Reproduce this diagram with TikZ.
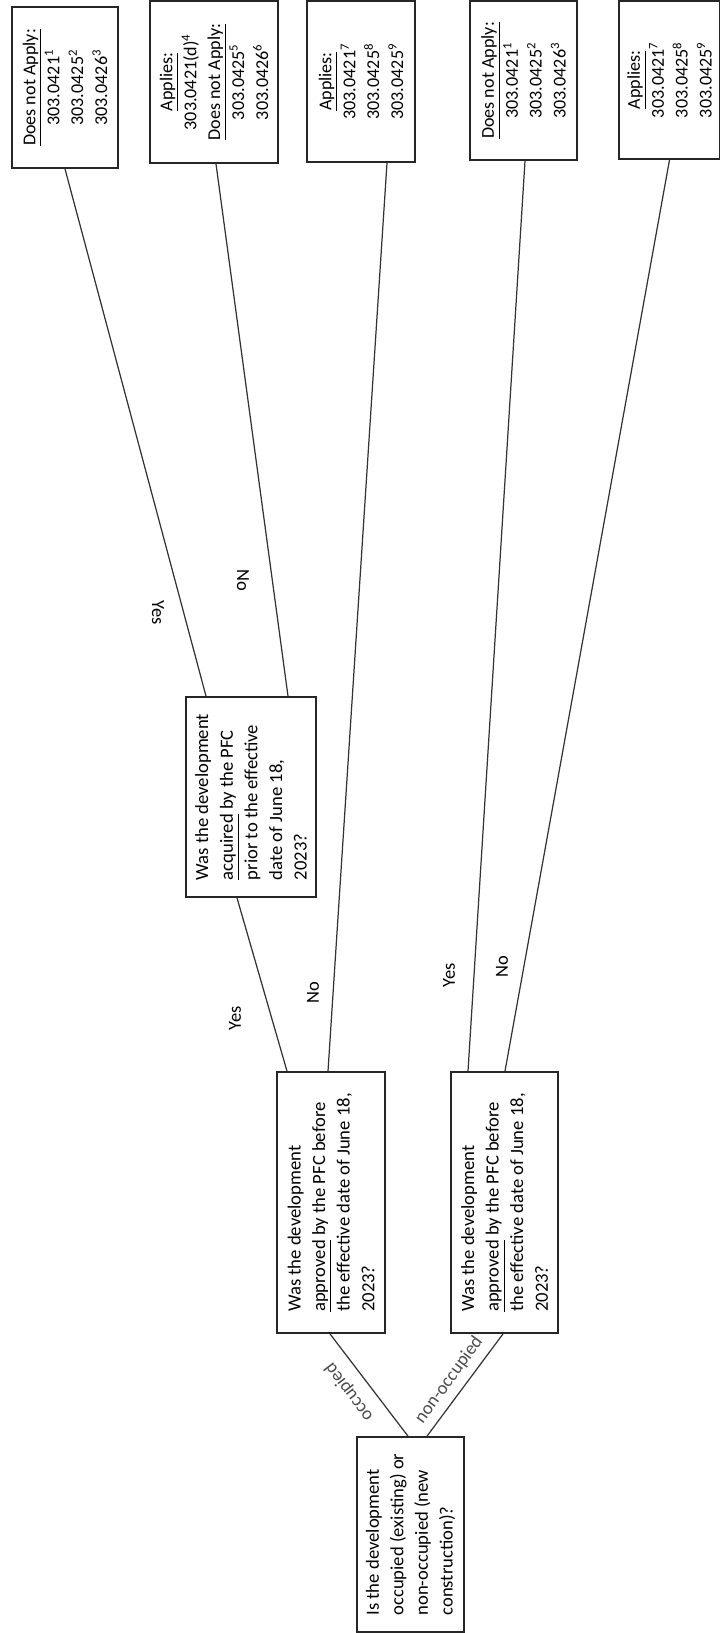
\documentclass[tikz,border=0pt]{standalone}
\usepackage{fontspec}
\setmainfont{Carlito}
\usetikzlibrary{positioning}
\tikzset{
  qbox/.style={draw=black!85,line width=1pt,rotate=90,align=left,inner sep=0pt,
    font=\fontsize{10.6}{14}\selectfont},
  rbox/.style={draw=black!85,line width=1pt,rotate=90,align=center,inner sep=0pt,
    font=\fontsize{10.3}{13.6}\selectfont},
  lbl/.style={inner sep=1pt,font=\fontsize{10.5}{12}\selectfont},
  link/.style={draw=black!80,line width=0.7pt}
}
\begin{document}
\begin{tikzpicture}[x=0.2mm,y=-0.2mm]
\useasboundingbox (0,0) rectangle (719,1633);
% questions
\node[qbox,minimum width=39mm,minimum height=21.4mm] (root) at (410.5,1534.5)
  {Is the development\\occupied (existing) or\\non-occupied (new\\construction)?};
\node[qbox,minimum width=52.2mm,minimum height=21.6mm] (appocc) at (331,1202.5)
  {Was the development\\\underline{approved} by the PFC before\\the effective date of June 18,\\2023?};
\node[qbox,minimum width=52.2mm,minimum height=21.4mm] (appnon) at (504.5,1202.5)
  {Was the development\\\underline{approved} by the PFC before\\the effective date of June 18,\\2023?};
\node[qbox,minimum width=40mm,minimum height=26mm] (acq) at (251,797)
  {Was the development\\\underline{acquired} by the PFC\\prior to the effective\\date of June 18,\\2023?};
% results
\node[rbox,minimum width=32.2mm,minimum height=21.2mm] (resA) at (65,87.5)
  {\underline{Does not Apply:}\\303.0421\textsuperscript{1}\\303.0425\textsuperscript{2}\\303.0426\textsuperscript{3}};
\node[rbox,minimum width=32.4mm,minimum height=25.6mm] (resB) at (214,82)
  {\underline{Applies:}\\303.0421(d)\textsuperscript{4}\\\underline{Does not Apply:}\\303.0425\textsuperscript{5}\\303.0426\textsuperscript{6}};
\node[rbox,minimum width=32.2mm,minimum height=21.6mm] (resC) at (361,81.5)
  {\underline{Applies:}\\303.0421\textsuperscript{7}\\303.0425\textsuperscript{8}\\303.0425\textsuperscript{9}};
\node[rbox,minimum width=31.8mm,minimum height=21.4mm] (resD) at (523.5,80.5)
  {\underline{Does not Apply:}\\303.0421\textsuperscript{1}\\303.0425\textsuperscript{2}\\303.0426\textsuperscript{3}};
\node[rbox,minimum width=31.6mm,minimum height=20.2mm] (resE) at (669.5,80)
  {\underline{Applies:}\\303.0421\textsuperscript{7}\\303.0425\textsuperscript{8}\\303.0425\textsuperscript{9}};
% branches
\draw[link] ([xshift=-0.5mm]root.east) -- ([xshift=-0.2mm]appocc.west);
\draw[link] ([xshift=3.3mm]root.east) -- ([xshift=-0.3mm]appnon.west);
\draw[link] ([xshift=-8.8mm]appocc.east) -- ([xshift=-2.8mm]acq.west);
\draw[link] ([xshift=-0.6mm]appocc.east) -- ([xshift=5.2mm]resC.west);
\draw[link] ([xshift=-9mm]acq.east) -- (resA.west);
\draw[link] ([xshift=7.4mm]acq.east) -- ([xshift=0.4mm]resB.west);
\draw[link] ([xshift=-7.3mm]appnon.east) -- ([xshift=0.3mm]resD.west);
\draw[link] ([xshift=0.1mm]appnon.east) -- (resE.west);
% labels
\node[lbl,rotate=127,text=black!70] (occlbl) at (349,1392) {occupied};
\node[lbl,rotate=54,text=black!70] (nonlbl) at (449,1380) {non-occupied};
\node[lbl,rotate=-90] (yesA) at (158,613) {Yes};
\node[lbl,rotate=-90] (noB) at (243,580) {No};
\node[lbl,rotate=90] (yesacq) at (235,1018) {Yes};
\node[lbl,rotate=90] (noC) at (313,993) {No};
\node[lbl,rotate=90] (yesD) at (449,975) {Yes};
\node[lbl,rotate=90] (noE) at (502,967) {No};
\end{tikzpicture}
\end{document}
